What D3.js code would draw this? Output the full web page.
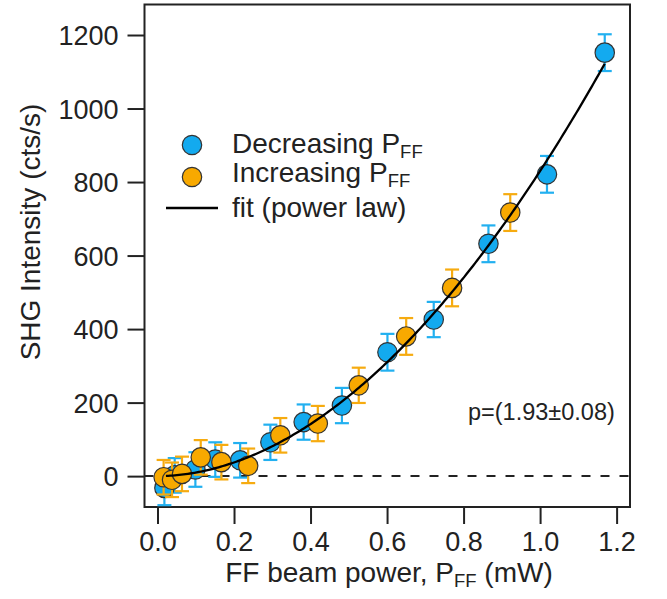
<!DOCTYPE html>
<html>
<head>
<meta charset="utf-8">
<script src="https://cdn.jsdelivr.net/npm/d3@7"></script>
<style>
  body { margin: 0; background: #fff; }
  svg { font-family: "Liberation Sans", Arial, sans-serif; }
</style>
</head>
<body>
<svg id="chart" width="667" height="599"></svg>
<script>
// decreasing FF power series
let decX = [1.169, 1.018, 0.865, 0.722, 0.601, 0.482, 0.382, 0.295, 0.216, 0.151, 0.099, 0.045, 0.018];
let decY = [1152, 821, 632, 426, 337, 192, 147, 92, 43, 45, 18, 2, -32];
let decErr = [50, 50, 50, 48, 50, 48, 48, 48, 47, 47, 47, 47, 47];
// increasing FF power series
let incX = [0.016, 0.038, 0.064, 0.113, 0.167, 0.237, 0.321, 0.419, 0.526, 0.650, 0.770, 0.922];
let incY = [-3, -10, 6, 51, 38, 28, 111, 143, 247, 380, 512, 717];
let incErr = [47, 47, 47, 47, 47, 47, 47, 48, 48, 50, 50, 50];
// power law fit y = a * x^p
let fitA = 830;
let fitP = 1.93;
let fitRange = [0.022, 1.169];

let xTicks = [0, 0.2, 0.4, 0.6, 0.8, 1.0, 1.2];
let yTicks = [0, 200, 400, 600, 800, 1000, 1200];

let colorDec = '#13aaef';
let colorInc = '#f8a900';
let colorDecBar = '#22b0f0';
let colorIncBar = '#f6ab10';

let svg = d3.select('#chart');
let plotLeft = 144.5, plotRight = 630, plotTop = 4.5, plotBottom = 507;

let x = d3.scaleLinear().domain([-0.034, 1.235]).range([plotLeft, plotRight]);
let y = d3.scaleLinear().domain([-84, 1283]).range([plotBottom, plotTop]);

// zero line
svg.append('line')
  .attr('x1', plotLeft).attr('x2', plotRight)
  .attr('y1', y(0)).attr('y2', y(0))
  .attr('stroke', '#222').attr('stroke-width', 2)
  .attr('stroke-dasharray', '9,10');

// axes
let xAxis = svg.append('g')
  .attr('transform', 'translate(0,' + plotBottom + ')')
  .call(d3.axisBottom(x).tickValues(xTicks).tickFormat(d3.format('.1f')).tickSizeOuter(0).tickSizeInner(17).tickPadding(8));
let yAxis = svg.append('g')
  .attr('transform', 'translate(' + plotLeft + ',0)')
  .call(d3.axisLeft(y).tickValues(yTicks).tickFormat(d3.format('d')).tickSizeOuter(0).tickSizeInner(17).tickPadding(9));
[xAxis, yAxis].forEach(function(g) {
  g.select('.domain').remove();
  g.selectAll('.tick line').attr('stroke', '#222').attr('stroke-width', 2);
  g.selectAll('.tick text').attr('font-size', 27).attr('fill', '#222')
    .attr('font-family', '"Liberation Sans", Arial, sans-serif');
});
yAxis.selectAll('.tick text').attr('dy', '0.36em');

// frame
svg.append('rect')
  .attr('x', plotLeft).attr('y', plotTop)
  .attr('width', plotRight - plotLeft).attr('height', plotBottom - plotTop)
  .attr('fill', 'none').attr('stroke', '#222').attr('stroke-width', 2);

function series(xs, ys, errs, fill, barColor) {
  let pts = xs.map((d, i) => ({x: d, y: ys[i], e: errs[i]}));
  let g = svg.append('g');
  let bars = g.selectAll('g.bar').data(pts).enter().append('g')
    .attr('stroke', barColor).attr('stroke-width', 2.2);
  bars.append('line')
    .attr('x1', d => x(d.x)).attr('x2', d => x(d.x))
    .attr('y1', d => y(d.y - d.e)).attr('y2', d => y(d.y + d.e));
  bars.append('line')
    .attr('x1', d => x(d.x) - 7).attr('x2', d => x(d.x) + 7)
    .attr('y1', d => y(d.y + d.e)).attr('y2', d => y(d.y + d.e));
  bars.append('line')
    .attr('x1', d => x(d.x) - 7).attr('x2', d => x(d.x) + 7)
    .attr('y1', d => y(d.y - d.e)).attr('y2', d => y(d.y - d.e));
  g.selectAll('circle').data(pts).enter().append('circle')
    .attr('cx', d => x(d.x)).attr('cy', d => y(d.y)).attr('r', 9.7)
    .attr('fill', fill).attr('stroke', '#333').attr('stroke-width', 1.2);
}

series(decX, decY, decErr, colorDec, colorDecBar);
series(incX, incY, incErr, colorInc, colorIncBar);

// fit curve
let fitPts = d3.range(0, 201).map(i => {
  let xv = fitRange[0] + (fitRange[1] - fitRange[0]) * i / 200;
  return [xv, fitA * Math.pow(xv, fitP)];
});
svg.append('path')
  .datum(fitPts)
  .attr('d', d3.line().x(d => x(d[0])).y(d => y(d[1])))
  .attr('fill', 'none').attr('stroke', '#000').attr('stroke-width', 2.3);

// legend
let legend = svg.append('g').attr('font-size', 28).attr('fill', '#222');
legend.append('circle').attr('cx', 192).attr('cy', 145).attr('r', 9.7)
  .attr('fill', colorDec).attr('stroke', '#333').attr('stroke-width', 1.2);
legend.append('circle').attr('cx', 192).attr('cy', 177).attr('r', 9.7)
  .attr('fill', colorInc).attr('stroke', '#333').attr('stroke-width', 1.2);
legend.append('line').attr('x1', 166).attr('x2', 218).attr('y1', 208).attr('y2', 208)
  .attr('stroke', '#000').attr('stroke-width', 2.3);

function subText(g, tx, ty, main, sub, tail, size) {
  let t = g.append('text').attr('x', tx).attr('y', ty).attr('font-size', size).attr('fill', '#222');
  t.append('tspan').text(main);
  t.append('tspan').attr('font-size', size * 0.66).attr('dy', size * 0.18).text(sub);
  if (tail) t.append('tspan').attr('dy', -size * 0.18).text(tail);
  return t;
}
subText(legend, 232, 153, 'Decreasing P', 'FF', null, 28);
subText(legend, 232, 182, 'Increasing P', 'FF', null, 28);
legend.append('text').attr('x', 232).attr('y', 217).text('fit (power law)');

// annotation
svg.append('text').attr('x', 468).attr('y', 420).attr('font-size', 23.5).attr('fill', '#222')
  .text('p=(1.93\u00b10.08)');

// axis titles
subText(svg, 389, 582, 'FF beam power, P', 'FF', ' (mW)', 28).attr('text-anchor', 'middle');
svg.append('text')
  .attr('transform', 'translate(40,232) rotate(-90)')
  .attr('text-anchor', 'middle').attr('font-size', 28).attr('fill', '#222')
  .text('SHG Intensity (cts/s)');
</script>
</body>
</html>
